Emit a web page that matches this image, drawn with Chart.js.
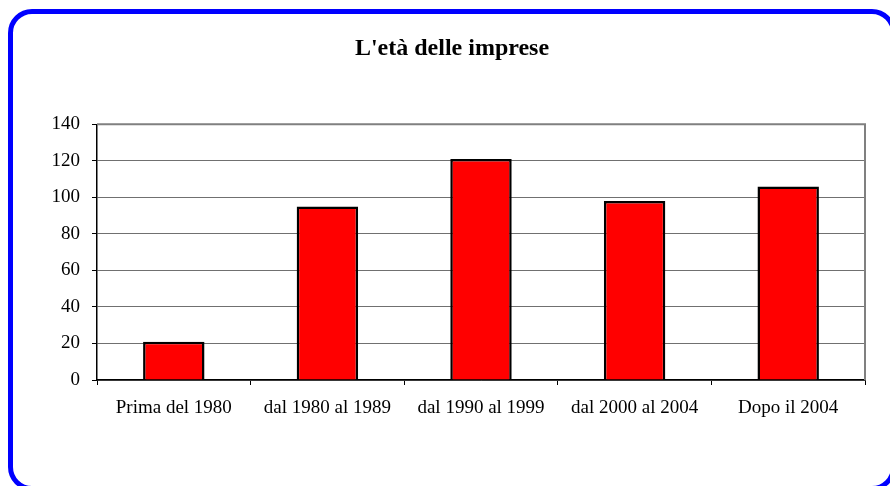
<!DOCTYPE html>
<html>
<head>
<meta charset="utf-8">
<script src="https://cdn.jsdelivr.net/npm/chart.js@4/dist/chart.umd.min.js"></script>
<style>
  html, body { margin: 0; padding: 0; background: #fff; overflow: hidden; }
  #wrap { position: relative; width: 890px; height: 486px; }
  #frame {
    position: absolute; left: 8px; top: 9px; width: 878px; height: 472px;
    border: 5px solid #0000ff; border-radius: 24px; pointer-events: none;
  }
  canvas { position: absolute; left: 0; top: 0; }
</style>
</head>
<body>
<div id="wrap">
  <canvas id="ageChart" width="890" height="486"></canvas>
  <div id="frame"></div>
</div>
<script>
// data
const categories = ['Prima del 1980', 'dal 1980 al 1989', 'dal 1990 al 1999', 'dal 2000 al 2004', 'Dopo il 2004'];
const companies = [21, 95, 121, 98, 106];
const yTicks = [0, 20, 40, 60, 80, 100, 120, 140];
const chartTitle = "L'età delle imprese";

const serif = '"Liberation Serif", "Times New Roman", serif';
const frameCenterX = 8 + 888 / 2; // middle of the blue frame

// grey frame on top and right of the plot area, like the old spreadsheet chart
const plotFrame = {
    id: 'plotFrame',
    afterDraw(chart) {
        const a = chart.chartArea;
        const ctx = chart.ctx;
        ctx.save();
        ctx.strokeStyle = '#808080';
        ctx.lineWidth = 2;
        ctx.beginPath();
        ctx.moveTo(a.left, a.top);
        ctx.lineTo(a.right, a.top);
        ctx.lineTo(a.right, a.bottom);
        ctx.stroke();

        // title centred in the frame (the built-in one only reserves the space)
        const t = chart.titleBlock;
        ctx.fillStyle = '#000';
        ctx.font = 'bold 24px ' + serif;
        ctx.textAlign = 'center';
        ctx.textBaseline = 'middle';
        ctx.fillText(chartTitle, frameCenterX, t.top + 34 + 14.4);
        ctx.restore();
    }
};

new Chart(document.getElementById('ageChart'), {
    type: 'bar',
    data: {
        labels: categories,
        datasets: [{
            label: chartTitle,
            data: companies,
            backgroundColor: '#ff0000',
            borderColor: '#000000',
            borderWidth: 2.5,
            barPercentage: 0.4,
            categoryPercentage: 1
        }]
    },
    options: {
        responsive: false,
        animation: false,
        layout: { padding: { left: 0, right: 25, top: 0, bottom: 0 } },
        plugins: {
            legend: { display: false },
            tooltip: { enabled: false },
            title: {
                display: true,
                text: chartTitle,
                color: 'rgba(0,0,0,0)',
                font: { family: serif, size: 24, weight: 'bold' },
                padding: { top: 34, bottom: 61.5 }
            }
        },
        scales: {
            x: {
                grid: { display: true, drawOnChartArea: false, drawTicks: true, tickLength: 5, tickColor: '#000', offset: true },
                border: { color: '#000', width: 1.5 },
                ticks: { color: '#000', font: { family: serif, size: 19 }, padding: 12, maxRotation: 0 },
                afterFit(scale) { scale.height = 106; }
            },
            y: {
                min: 0,
                max: 140,
                afterBuildTicks(scale) { scale.ticks = yTicks.map(v => ({ value: v })); },
                grid: { color: '#707070', lineWidth: 1, tickLength: 5, tickColor: '#000' },
                border: { color: '#000', width: 1.5 },
                ticks: { color: '#000', font: { family: serif, size: 19 }, padding: 12 },
                afterFit(scale) { scale.width = 97; }
            }
        }
    },
    plugins: [plotFrame]
});
</script>
</body>
</html>
